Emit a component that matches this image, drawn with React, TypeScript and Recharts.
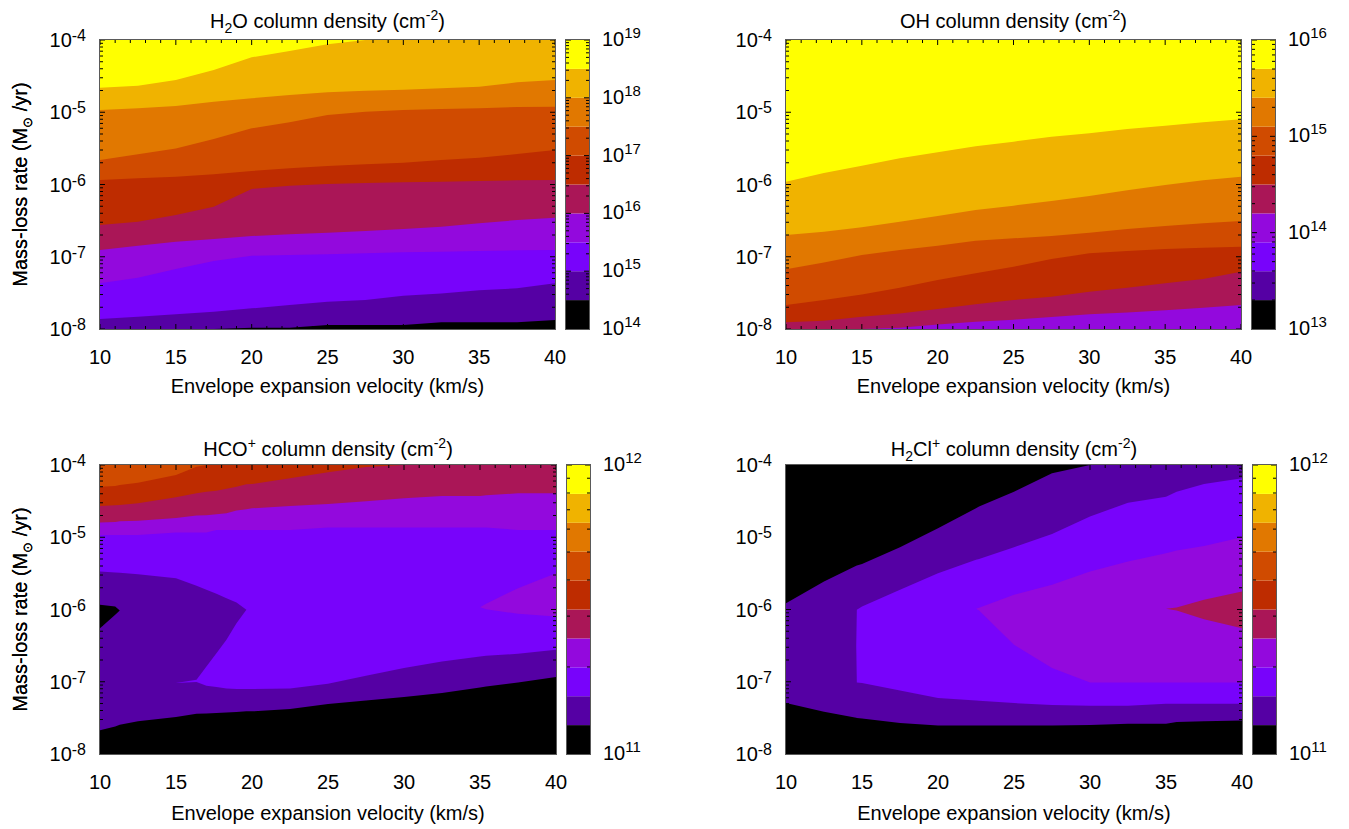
import React from 'react';
import { ComposedChart, Area, XAxis, YAxis } from 'recharts';

const FONT = '"Liberation Sans", Arial, Helvetica, sans-serif';
const FRAME = '#5a5a5a';
const TICK = '#000000';
const PALETTE = ['#000000', '#5500a4', '#7803fb', '#9309dd', '#aa1657', '#be2c00', '#d04b00', '#e17800', '#f0b300', '#ffff00'];

const Y_MIN = -8;
const Y_MAX = -4;
const X_MIN = 10;
const X_MAX = 40;
const X_TICKS = [10, 15, 20, 25, 30, 35, 40];
const X_MINOR = [11, 12, 13, 14, 16, 17, 18, 19, 21, 22, 23, 24, 26, 27, 28, 29, 31, 32, 33, 34, 36, 37, 38, 39];
const MINOR_FACTORS = [2, 3, 4, 5, 6, 7, 8, 9];
const MAJOR_LEN = 5;
const MINOR_LEN = 3;

// ---------- H2O (log10 of mass-loss rate where each colour level starts) ----------
const H2O_V = [10, 12.5, 15, 17.5, 20, 22.5, 25, 27.5, 30, 32.5, 35, 37.5, 40];
const H2O_B1 = [-8, -8, -8, -8, -7.982, -7.982, -7.945, -7.945, -7.945, -7.908, -7.908, -7.908, -7.876];
const H2O_B2 = [-7.862, -7.83, -7.797, -7.76, -7.714, -7.668, -7.622, -7.599, -7.539, -7.507, -7.465, -7.437, -7.368];
const H2O_B3 = [-7.368, -7.29, -7.17, -7.059, -6.985, -6.976, -6.967, -6.953, -6.939, -6.93, -6.921, -6.911, -6.907];
const H2O_B4 = [-6.907, -6.847, -6.791, -6.755, -6.713, -6.69, -6.667, -6.644, -6.616, -6.584, -6.538, -6.492, -6.459];
const H2O_B5 = [-6.561, -6.515, -6.422, -6.307, -6.062, -6.016, -5.993, -5.979, -5.97, -5.961, -5.952, -5.942, -5.938];
const H2O_B6 = [-5.938, -5.915, -5.892, -5.859, -5.813, -5.776, -5.744, -5.721, -5.698, -5.661, -5.629, -5.578, -5.523];
const H2O_B7 = [-5.661, -5.583, -5.5, -5.37, -5.223, -5.14, -5.038, -4.992, -4.969, -4.955, -4.946, -4.927, -4.923];
const H2O_B8 = [-4.969, -4.946, -4.914, -4.854, -4.807, -4.761, -4.724, -4.701, -4.687, -4.669, -4.646, -4.586, -4.554];
const H2O_B9 = [-4.66, -4.632, -4.554, -4.415, -4.24, -4.152, -4.06, -4, -4, -4, -4, -4, -4];

// ---------- OH ----------
const OH_V = [10, 12.5, 15, 17.5, 20, 22.5, 25, 27.5, 30, 32.5, 35, 37.5, 40];
const OH_B4 = [-8, -8, -8, -7.982, -7.936, -7.899, -7.871, -7.834, -7.797, -7.77, -7.742, -7.705, -7.668];
const OH_B5 = [-7.908, -7.885, -7.83, -7.784, -7.724, -7.659, -7.599, -7.553, -7.484, -7.428, -7.368, -7.308, -7.207];
const OH_B6 = [-7.668, -7.599, -7.521, -7.428, -7.322, -7.23, -7.138, -7.031, -6.953, -6.921, -6.893, -6.875, -6.861];
const OH_B7 = [-7.174, -7.078, -6.976, -6.907, -6.847, -6.778, -6.745, -6.713, -6.667, -6.616, -6.575, -6.538, -6.505];
const OH_B8 = [-6.699, -6.653, -6.593, -6.515, -6.436, -6.353, -6.293, -6.229, -6.159, -6.081, -6.007, -5.942, -5.892];
const OH_B9 = [-5.961, -5.841, -5.739, -5.638, -5.555, -5.472, -5.407, -5.338, -5.292, -5.232, -5.186, -5.14, -5.098];

// ---------- HCO+ ----------
const HCO_V = [10, 11, 11.3, 12.5, 15, 16.35, 17, 17.66, 18.32, 18.98, 19.63, 20, 22.5, 25, 27.5, 30, 32.5, 35, 35.4, 37.5, 40];
const HCO_BLACK_TOP = [-7.673, -7.618, -7.594, -7.548, -7.488, -7.442, -7.438, -7.433, -7.424, -7.419, -7.41, -7.41, -7.378, -7.309, -7.258, -7.212, -7.157, -7.078, -7.065, -7.009, -6.935];
const HCO_PURPLE_BOTTOM = [-7.018, -7.018, -7.018, -7.018, -7.018, -7.005, -7.055, -7.074, -7.092, -7.101, -7.101, -7.101, -7.092, -7.028, -6.917, -6.811, -6.719, -6.65, -6.641, -6.613, -6.558];
const HCO_TONGUE_LO = [-7.018, -7.018, -7.018, -7.018, -7.018, -6.972, -6.788, -6.604, -6.419, -6.189, -6.005, -6.005, -6.005, -6.005, -6.005, -6.005, -6.005, -6.005, -6.005, -6.005, -6.005];
const HCO_TONGUE_HI = [-5.475, -5.488, -5.493, -5.512, -5.567, -5.673, -5.728, -5.783, -5.843, -5.903, -6.005, -6.005, -6.005, -6.005, -6.005, -6.005, -6.005, -6.005, -6.005, -6.005, -6.005];
const HCO_ISLAND_LO = [-6.258, -6.074, -6.014, -6.014, -6.014, -6.014, -6.014, -6.014, -6.014, -6.014, -6.014, -6.014, -6.014, -6.014, -6.014, -6.014, -6.014, -6.014, -6.014, -6.014, -6.014];
const HCO_ISLAND_HI = [-5.935, -5.958, -6.014, -6.014, -6.014, -6.014, -6.014, -6.014, -6.014, -6.014, -6.014, -6.014, -6.014, -6.014, -6.014, -6.014, -6.014, -6.014, -6.014, -6.014, -6.014];
const HCO_VIOLET_ISLAND_LO = [-5.968, -5.968, -5.968, -5.968, -5.968, -5.968, -5.968, -5.968, -5.968, -5.968, -5.968, -5.968, -5.968, -5.968, -5.968, -5.968, -5.968, -5.968, -5.995, -6.06, -6.097];
const HCO_VIOLET_ISLAND_HI = [-5.968, -5.968, -5.968, -5.968, -5.968, -5.968, -5.968, -5.968, -5.968, -5.968, -5.968, -5.968, -5.968, -5.968, -5.968, -5.968, -5.968, -5.968, -5.922, -5.705, -5.498];
const HCO_VI_BOTTOM = [-4.968, -4.968, -4.968, -4.968, -4.935, -4.935, -4.935, -4.899, -4.899, -4.899, -4.899, -4.899, -4.899, -4.866, -4.866, -4.866, -4.866, -4.866, -4.866, -4.899, -4.899];
const HCO_MG_BOTTOM = [-4.797, -4.788, -4.779, -4.77, -4.733, -4.7, -4.696, -4.682, -4.668, -4.631, -4.613, -4.599, -4.567, -4.539, -4.502, -4.461, -4.429, -4.429, -4.419, -4.392, -4.392];
const HCO_DR_BOTTOM = [-4.567, -4.558, -4.553, -4.53, -4.447, -4.392, -4.369, -4.355, -4.327, -4.3, -4.267, -4.263, -4.184, -4.101, -4.028, -4, -4, -4, -4, -4, -4];
const HCO_OR_BOTTOM = [-4.3, -4.29, -4.276, -4.244, -4.138, -4.023, -4, -4, -4, -4, -4, -4, -4, -4, -4, -4, -4, -4, -4, -4, -4];

// ---------- H2Cl+ ----------
const H2CL_V = [10, 12.5, 14.62, 14.66, 15, 17.5, 20, 22.5, 22.7, 25, 27.5, 30, 32.5, 35, 35.7, 37.5, 40];
const H2CL_DP_LO = [-7.295, -7.415, -7.498, -7.5, -7.507, -7.571, -7.604, -7.604, -7.604, -7.604, -7.604, -7.6, -7.581, -7.581, -7.558, -7.548, -7.535];
const H2CL_DP_HI = [-5.912, -5.613, -5.396, -5.39, -5.369, -5.138, -4.876, -4.599, -4.576, -4.369, -4.115, -4, -4, -4, -4, -4, -4];
const H2CL_PU_LO = [-6.5, -6.5, -6.5, -7.009, -7.018, -7.12, -7.226, -7.258, -7.263, -7.295, -7.323, -7.332, -7.332, -7.304, -7.304, -7.304, -7.304];
const H2CL_PU_HI = [-6.5, -6.5, -6.5, -6.005, -5.959, -5.728, -5.498, -5.313, -5.3, -5.138, -4.954, -4.714, -4.521, -4.438, -4.369, -4.263, -4.184];
const H2CL_VI_LO = [-5.991, -5.991, -5.991, -5.991, -5.991, -5.991, -5.991, -5.991, -6.014, -6.488, -6.811, -7.009, -7.009, -7.009, -7.009, -7.009, -7.009];
const H2CL_VI_HI = [-5.991, -5.991, -5.991, -5.991, -5.991, -5.991, -5.991, -5.991, -5.977, -5.797, -5.659, -5.475, -5.336, -5.221, -5.184, -5.12, -5.0];
const H2CL_MG_LO = [-5.991, -5.991, -5.991, -5.991, -5.991, -5.991, -5.991, -5.991, -5.991, -5.991, -5.991, -5.991, -5.991, -5.991, -6.014, -6.134, -6.258];
const H2CL_MG_HI = [-5.991, -5.991, -5.991, -5.991, -5.991, -5.991, -5.991, -5.991, -5.991, -5.991, -5.991, -5.991, -5.991, -5.991, -5.972, -5.866, -5.751];

// colour-bar ranges (log10 of column density)
const H2O_CB = [14, 19];
const OH_CB = [13, 16];
const HCO_CB = [11, 12];
const H2CL_CB = [11, 12];

type Layer = { color: string; lo: number[] | number; hi: number[] | number };
type Seg = { t: string; s?: 'sub' | 'sup' };

const H2O_LAYERS: Layer[] = [
  { color: PALETTE[0], lo: Y_MIN, hi: Y_MAX },
  { color: PALETTE[1], lo: H2O_B1, hi: Y_MAX },
  { color: PALETTE[2], lo: H2O_B2, hi: Y_MAX },
  { color: PALETTE[3], lo: H2O_B3, hi: Y_MAX },
  { color: PALETTE[4], lo: H2O_B4, hi: Y_MAX },
  { color: PALETTE[5], lo: H2O_B5, hi: Y_MAX },
  { color: PALETTE[6], lo: H2O_B6, hi: Y_MAX },
  { color: PALETTE[7], lo: H2O_B7, hi: Y_MAX },
  { color: PALETTE[8], lo: H2O_B8, hi: Y_MAX },
  { color: PALETTE[9], lo: H2O_B9, hi: Y_MAX },
];

const OH_LAYERS: Layer[] = [
  { color: PALETTE[3], lo: Y_MIN, hi: Y_MAX },
  { color: PALETTE[4], lo: OH_B4, hi: Y_MAX },
  { color: PALETTE[5], lo: OH_B5, hi: Y_MAX },
  { color: PALETTE[6], lo: OH_B6, hi: Y_MAX },
  { color: PALETTE[7], lo: OH_B7, hi: Y_MAX },
  { color: PALETTE[8], lo: OH_B8, hi: Y_MAX },
  { color: PALETTE[9], lo: OH_B9, hi: Y_MAX },
];

const HCO_LAYERS: Layer[] = [
  { color: PALETTE[2], lo: Y_MIN, hi: Y_MAX },
  { color: PALETTE[1], lo: Y_MIN, hi: HCO_PURPLE_BOTTOM },
  { color: PALETTE[0], lo: Y_MIN, hi: HCO_BLACK_TOP },
  { color: PALETTE[1], lo: HCO_TONGUE_LO, hi: HCO_TONGUE_HI },
  { color: PALETTE[0], lo: HCO_ISLAND_LO, hi: HCO_ISLAND_HI },
  { color: PALETTE[3], lo: HCO_VIOLET_ISLAND_LO, hi: HCO_VIOLET_ISLAND_HI },
  { color: PALETTE[3], lo: HCO_VI_BOTTOM, hi: Y_MAX },
  { color: PALETTE[4], lo: HCO_MG_BOTTOM, hi: Y_MAX },
  { color: PALETTE[5], lo: HCO_DR_BOTTOM, hi: Y_MAX },
  { color: PALETTE[6], lo: HCO_OR_BOTTOM, hi: Y_MAX },
];

const H2CL_LAYERS: Layer[] = [
  { color: PALETTE[0], lo: Y_MIN, hi: Y_MAX },
  { color: PALETTE[1], lo: H2CL_DP_LO, hi: H2CL_DP_HI },
  { color: PALETTE[2], lo: H2CL_PU_LO, hi: H2CL_PU_HI },
  { color: PALETTE[3], lo: H2CL_VI_LO, hi: H2CL_VI_HI },
  { color: PALETTE[4], lo: H2CL_MG_LO, hi: H2CL_MG_HI },
];

const pick = (a: number[] | number, j: number) => (typeof a === 'number' ? a : a[j]);
const isInt = (v: number) => Math.abs(v - Math.round(v)) < 1e-9;

const logTicks = (a: number, b: number) => {
  const out: number[] = [];
  for (let d = a; d < b; d++) {
    out.push(d);
    MINOR_FACTORS.forEach((k) => out.push(d + Math.log10(k)));
  }
  out.push(b);
  return out;
};

const X_ALL = [...X_TICKS, ...X_MINOR].sort((p, q) => p - q);
const Y_ALL = logTicks(Y_MIN, Y_MAX);

function renderSegs(segs: Seg[], small: number) {
  let cur = 0;
  return segs.map((s, i) => {
    const target = s.s === 'sub' ? 5 : s.s === 'sup' ? -8 : 0;
    const dy = target - cur;
    cur = target;
    return (
      <tspan key={i} dy={dy} fontSize={s.s ? small : undefined}>
        {s.t}
      </tspan>
    );
  });
}

// x-axis tick: inward marks at bottom and top edges, label on the major values
const XTick = (props: any) => {
  const { x, y, payload, plotH } = props;
  const v = payload.value as number;
  const major = X_TICKS.includes(v);
  const len = major ? MAJOR_LEN : MINOR_LEN;
  return (
    <g>
      <line x1={x} x2={x} y1={y} y2={y - len} stroke={TICK} strokeWidth={1} />
      <line x1={x} x2={x} y1={y - plotH} y2={y - plotH + len} stroke={TICK} strokeWidth={1} />
      {major && (
        <text x={x} y={y + 35} textAnchor="middle" fontFamily={FONT} fontSize={20} fill="#000">
          {v}
        </text>
      )}
    </g>
  );
};

// y-axis tick: inward marks at left and right edges, 10^n label on decades
const YTick = (props: any) => {
  const { x, y, payload, plotW } = props;
  const v = payload.value as number;
  const major = isInt(v);
  const len = major ? MAJOR_LEN : MINOR_LEN;
  return (
    <g>
      <line x1={x} x2={x + len} y1={y} y2={y} stroke={TICK} strokeWidth={1} />
      <line x1={x + plotW} x2={x + plotW - len} y1={y} y2={y} stroke={TICK} strokeWidth={1} />
      {major && (
        <text x={x - 14} y={y + 7} textAnchor="end" fontFamily={FONT} fontSize={20} fill="#000">
          10
          <tspan dy={-6} fontSize={16}>
            {String(Math.round(v))}
          </tspan>
        </text>
      )}
    </g>
  );
};

// colour-bar tick: marks on both sides, label on decades
const CbTick = (props: any) => {
  const { x, y, payload, barW } = props;
  const v = payload.value as number;
  const major = isInt(v);
  const len = major ? MAJOR_LEN : MINOR_LEN;
  return (
    <g>
      <line x1={x} x2={x - len} y1={y} y2={y} stroke={TICK} strokeWidth={1} />
      <line x1={x - barW} x2={x - barW + len} y1={y} y2={y} stroke={TICK} strokeWidth={1} />
      {major && (
        <text x={x + 13} y={y + 6} textAnchor="start" fontFamily={FONT} fontSize={20} fill="#000">
          10
          <tspan dy={-8} fontSize={15}>
            {String(Math.round(v))}
          </tspan>
        </text>
      )}
    </g>
  );
};

type PanelDef = {
  left: number;
  top: number;
  w: number;
  h: number;
  v: number[];
  layers: Layer[];
  cb: number[];
  title: Seg[];
  titleGap: number;
  xlabGap: number;
};

const CB_GAP = 11;
const CB_W = 23;

function ContourPanel({ p }: { p: PanelDef }) {
  const YW = 60;
  const XH = 40;
  const M = { top: 20, right: 16, bottom: 5, left: 10 };
  const rows = p.v.map((x, j) => {
    const r: Record<string, any> = { v: x };
    p.layers.forEach((L, i) => {
      r['L' + i] = [pick(L.lo, j), pick(L.hi, j)];
    });
    return r;
  });
  return (
    <div style={{ position: 'absolute', left: p.left - M.left - YW, top: p.top - M.top }}>
      <ComposedChart width={p.w + M.left + M.right + YW} height={p.h + M.top + M.bottom + XH} data={rows} margin={M}>
        {p.layers.map((L, i) => (
          <Area
            key={i}
            xAxisId="x"
            yAxisId="y"
            type="linear"
            dataKey={'L' + i}
            fill={L.color}
            fillOpacity={1}
            stroke="none"
            isAnimationActive={false}
            dot={false}
            activeDot={false}
          />
        ))}
        <XAxis xAxisId="x" dataKey="v" type="number" domain={[X_MIN, X_MAX]} ticks={X_ALL} interval={0} height={XH}
          tickSize={0} tickMargin={0} tickLine={false} axisLine={false} tick={<XTick plotH={p.h} />} allowDataOverflow />
        <YAxis yAxisId="y" type="number" domain={[Y_MIN, Y_MAX]} ticks={Y_ALL} interval={0} width={YW} tickSize={0} tickMargin={0}
          tickLine={false} axisLine={false} tick={<YTick plotW={p.w} />} allowDataOverflow />
      </ComposedChart>
    </div>
  );
}

function ColorBar({ p }: { p: PanelDef }) {
  const RW = 55;
  const M = { top: 20, right: 7, bottom: 15, left: CB_GAP };
  const [a, b] = p.cb;
  const step = (b - a) / PALETTE.length;
  const row: Record<string, any> = {};
  PALETTE.forEach((c, k) => {
    row['C' + k] = [a + k * step, a + (k + 1) * step];
  });
  const rows = [{ v: 0, ...row }, { v: 1, ...row }];
  return (
    <div style={{ position: 'absolute', left: p.left + p.w, top: p.top - M.top }}>
      <ComposedChart width={CB_W + M.left + M.right + RW} height={p.h + M.top + M.bottom} data={rows} margin={M}>
        {PALETTE.map((c, k) => (
          <Area key={k} xAxisId="x" yAxisId="y" type="linear" dataKey={'C' + k} fill={c} fillOpacity={1} stroke="none"
            isAnimationActive={false} dot={false} activeDot={false} />
        ))}
        <XAxis xAxisId="x" dataKey="v" type="number" domain={[0, 1]} hide />
        <YAxis yAxisId="y" orientation="right" type="number" domain={[a, b]} ticks={logTicks(a, b)} interval={0} width={RW}
          tickSize={0} tickMargin={0} tickLine={false} axisLine={false} tick={<CbTick barW={CB_W} />} />
      </ComposedChart>
    </div>
  );
}

const PANELS: PanelDef[] = [
  {
    left: 100, top: 40, w: 455, h: 289, v: H2O_V, layers: H2O_LAYERS, cb: H2O_CB, titleGap: 12, xlabGap: 64,
    title: [{ t: 'H' }, { t: '2', s: 'sub' }, { t: 'O column density (cm' }, { t: '-2', s: 'sup' }, { t: ')' }],
  },
  {
    left: 786, top: 40, w: 455, h: 289, v: OH_V, layers: OH_LAYERS, cb: OH_CB, titleGap: 12, xlabGap: 64,
    title: [{ t: 'OH column density (cm' }, { t: '-2', s: 'sup' }, { t: ')' }],
  },
  {
    left: 100, top: 465, w: 456, h: 289, v: HCO_V, layers: HCO_LAYERS, cb: HCO_CB, titleGap: 9, xlabGap: 66,
    title: [{ t: 'HCO' }, { t: '+', s: 'sup' }, { t: ' column density (cm' }, { t: '-2', s: 'sup' }, { t: ')' }],
  },
  {
    left: 786, top: 465, w: 456, h: 289, v: H2CL_V, layers: H2CL_LAYERS, cb: H2CL_CB, titleGap: 9, xlabGap: 66,
    title: [{ t: 'H' }, { t: '2', s: 'sub' }, { t: 'Cl' }, { t: '+', s: 'sup' }, { t: ' column density (cm' }, { t: '-2', s: 'sup' }, { t: ')' }],
  },
];

export default function App() {
  return (
    <div style={{ position: 'absolute', left: 0, top: 0, width: 1349, height: 829, background: '#ffffff', overflow: 'hidden' }}>
      {PANELS.map((p, i) => (
        <React.Fragment key={i}>
          <ContourPanel p={p} />
          <ColorBar p={p} />
        </React.Fragment>
      ))}
      <svg width={1349} height={829} style={{ position: 'absolute', left: 0, top: 0, pointerEvents: 'none' }}>
        {PANELS.map((p, i) => {
          const cx = p.left + p.w / 2;
          const cy = p.top + p.h / 2;
          const cbx = p.left + p.w + CB_GAP;
          return (
            <g key={i} fontFamily={FONT} fontSize={20} fill="#000">
              <rect x={p.left - 0.5} y={p.top - 0.5} width={p.w + 1} height={p.h + 1} fill="none" stroke={FRAME} strokeWidth={1} />
              <rect x={cbx - 0.5} y={p.top - 0.5} width={CB_W + 1} height={p.h + 1} fill="none" stroke={FRAME} strokeWidth={1} />
              <text x={cx} y={p.top - p.titleGap} textAnchor="middle">
                {renderSegs(p.title, 14)}
              </text>
              <text x={cx} y={p.top + p.h + p.xlabGap} textAnchor="middle">
                Envelope expansion velocity (km/s)
              </text>
              <text transform={`translate(27, ${cy}) rotate(-90)`} x={0} y={0} textAnchor="middle">
                {renderSegs([{ t: 'Mass-loss rate (M' }, { t: '\u2299', s: 'sub' }, { t: ' /yr)' }], 13)}
              </text>
            </g>
          );
        })}
      </svg>
    </div>
  );
}
